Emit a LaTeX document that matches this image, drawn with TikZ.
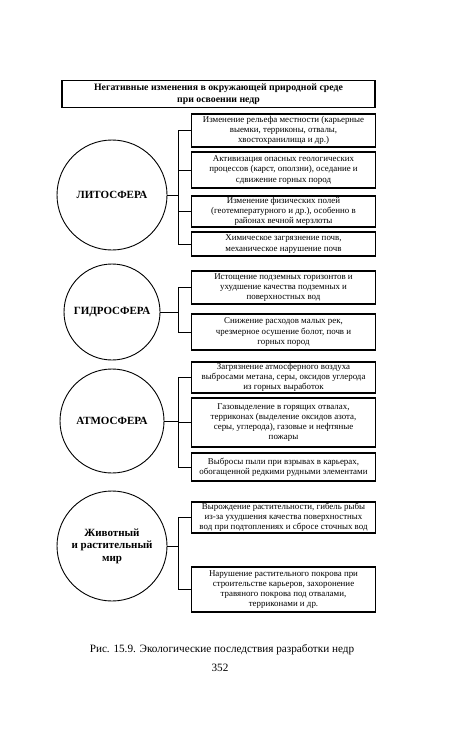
\documentclass[tikz,border=0pt]{standalone}
\usepackage{fontspec}
\setmainfont{Liberation Serif}
\begin{document}
\begin{tikzpicture}[x=1pt,y=-1pt,
  box/.style={draw,line width=1.1pt,minimum width=184pt,align=center,inner xsep=1pt,inner ysep=1pt,font=\fontsize{8.9}{10.2}\selectfont},
  circ/.style={draw,circle,line width=0.9pt,align=center,font=\bfseries\fontsize{11}{12.5}\selectfont},
  conn/.style={line width=1pt}]
\useasboundingbox (0,0) rectangle (450,731);
% title
\node[draw,line width=1.3pt,minimum width=313pt,minimum height=26pt,align=center,font=\bfseries\fontsize{9.8}{12}\selectfont] (T) at (218.5,94)
 {Негативные изменения в окружающей природной среде\\при освоении недр};
% Lithosphere
\node[circ,minimum size=110pt] (L) at (112,195) {ЛИТОСФЕРА};
\node[box,minimum height=33pt] (L1) at (283.5,130.5) {Изменение рельефа местности (карьерные\\выемки, терриконы, отвалы,\\хвостохранилища и др.)};
\node[box,minimum height=36pt] (L2) at (283.5,170) {Активизация опасных геологических\\процессов (карст, оползни), оседание и\\сдвижение горных пород};
\node[box,minimum height=31pt] (L3) at (283.5,211.5) {Изменение физических полей\\(геотемпературного и др.), особенно в\\районах вечной мерзлоты};
\node[box,minimum height=24pt] (L4) at (283.5,244) {Химическое загрязнение почв,\\механическое нарушение почв};
\coordinate (Lb) at (178,195);
% Hydrosphere
\node[circ,minimum size=96pt] (H) at (112,312) {ГИДРОСФЕРА};
\node[box,minimum height=33pt] (H1) at (283.5,287.5) {Истощение подземных горизонтов и\\ухудшение качества подземных и\\поверхностных вод};
\node[box,minimum height=36pt] (H2) at (283.5,332) {Снижение расходов малых рек,\\чрезмерное осушение болот, почв и\\горных пород};
\coordinate (Hb) at (178,312);
% Atmosphere
\node[circ,minimum size=104pt] (A) at (112,421) {АТМОСФЕРА};
\node[box,minimum height=31pt] (A1) at (283.5,377.5) {Загрязнение атмосферного воздуха\\выбросами метана, серы, оксидов углерода\\из горных выработок};
\node[box,minimum height=49pt] (A2) at (283.5,422.5) {Газовыделение в горящих отвалах,\\терриконах (выделение оксидов азота,\\серы, углерода), газовые и нефтяные\\пожары};
\node[box,minimum height=28pt] (A3) at (283.5,467) {Выбросы пыли при взрывах в карьерах,\\обогащенной редкими рудными элементами};
\coordinate (Ab) at (178,421);
% Fauna and flora
\node[circ,minimum size=110pt] (Z) at (112,546) {Животный\\и растительный\\мир};
\node[box,minimum height=31pt] (Z1) at (283.5,517.5) {Вырождение растительности, гибель рыбы\\из-за ухудшения качества поверхностных\\вод при подтоплениях и сбросе сточных вод};
\node[box,minimum height=45pt] (Z2) at (283.5,589.5) {Нарушение растительного покрова при\\строительстве карьеров, захоронение\\травяного покрова под отвалами,\\терриконами и др.};
\coordinate (Zb) at (178,546);
% connectors
\draw[conn] (L) -- (Lb);
\draw[conn] (L1.west) -- (L1.west -| Lb) -- (L4.west -| Lb) -- (L4.west);
\draw[conn] (L2.west) -- (L2.west -| Lb);
\draw[conn] (L3.west) -- (L3.west -| Lb);
\draw[conn] (H) -- (Hb);
\draw[conn] (H1.west) -- (H1.west -| Hb) -- (H2.west -| Hb) -- (H2.west);
\draw[conn] (A) -- (Ab);
\draw[conn] (A1.west) -- (A1.west -| Ab) -- (A3.west -| Ab) -- (A3.west);
\draw[conn] (A2.west) -- (A2.west -| Ab);
\draw[conn] (Z) -- (Zb);
\draw[conn] (Z1.west) -- (Z1.west -| Zb) -- (Z2.west -| Zb) -- (Z2.west);
% caption
\node[font=\fontsize{11.2}{13}\selectfont] (C) at (222,650) {Рис. 15.9. Экологические последствия разработки недр};
\node[font=\fontsize{11.2}{13}\selectfont] (P) at (220,668) {352};
\end{tikzpicture}
\end{document}
